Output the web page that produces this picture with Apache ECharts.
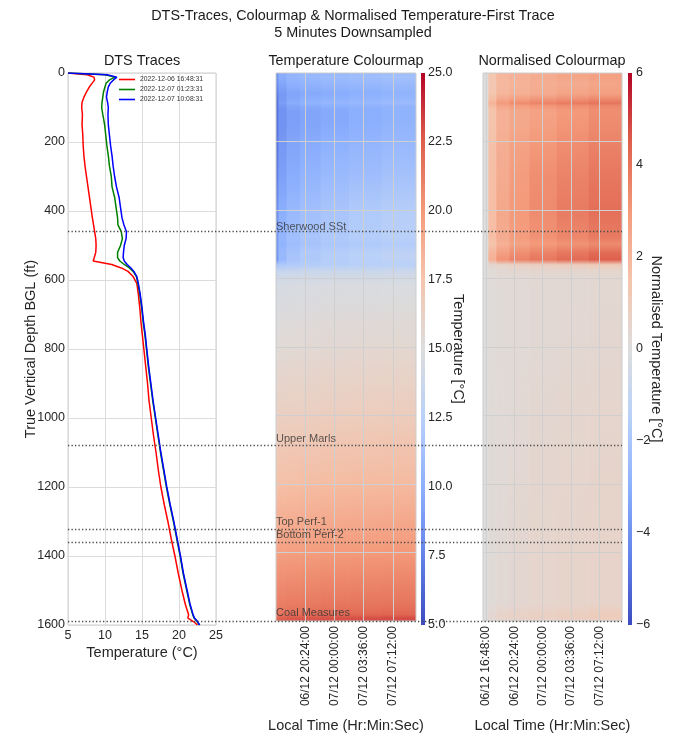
<!DOCTYPE html>
<html lang="en">
<head>
<meta charset="UTF-8">
<title>DTS Traces</title>
<script src="https://cdn.jsdelivr.net/npm/echarts@6/dist/echarts.min.js"></script>
<style>
    html, body { margin: 0; padding: 0; background: #fff; }
    #main { width: 677px; height: 738px; }
</style>
</head>
<body>
<div id="main"></div>
<script>
// ---- DTS traces (depth in ft, temperature in degC) ----
var traceDepths = [0, 5, 12, 20, 30, 40, 55, 70, 85, 100,
    120, 150, 180, 210, 240, 270, 300, 330, 360, 390,
    420, 440, 460, 480, 500, 520, 535, 545, 555, 565,
    575, 590, 610, 640, 680, 720, 760, 800, 850, 900,
    950, 1000, 1050, 1100, 1150, 1200, 1250, 1300, 1350, 1400,
    1450, 1500, 1540, 1570, 1580, 1590, 1600];
var traceRed = [5.0, 7.6, 8.5, 8.6, 8.25, 7.9, 7.5, 7.15, 6.9, 6.85,
    6.95, 6.9, 7.0, 7.05, 7.15, 7.3, 7.5, 7.7, 7.9, 8.1,
    8.3, 8.45, 8.6, 8.75, 8.8, 8.75, 8.55, 8.4, 10.9, 12.2,
    13.1, 13.8, 14.3, 14.5, 14.7, 14.85, 15.05, 15.25, 15.5, 15.75,
    15.95, 16.25, 16.55, 16.9, 17.2, 17.55, 18.0, 18.5, 18.95, 19.45,
    19.9, 20.4, 20.85, 21.3, 21.2, 21.95, 22.5];
var traceGreen = [5.0, 10.0, 11.35, 10.6, 10.15, 10.0, 9.8, 9.7, 9.6, 9.55,
    9.7, 9.95, 10.1, 10.25, 10.45, 10.6, 10.85, 10.95, 11.3, 11.5,
    11.7, 11.75, 12.2, 12.35, 12.1, 11.7, 11.7, 12.0, 12.6, 13.3,
    13.8, 14.25, 14.45, 14.7, 14.95, 15.15, 15.4, 15.6, 15.85, 16.15,
    16.45, 16.8, 17.15, 17.5, 17.9, 18.3, 18.75, 19.25, 19.7, 20.15,
    20.55, 21.05, 21.45, 21.85, 22.05, 22.45, 22.75];
var traceBlue = [5.0, 10.3, 11.6, 11.15, 10.7, 10.45, 10.3, 10.2, 10.35, 10.45,
    10.4, 10.45, 10.6, 10.75, 10.95, 11.1, 11.3, 11.55, 11.9, 12.1,
    12.3, 12.55, 12.9, 12.85, 12.6, 12.5, 12.45, 12.6, 13.0, 13.5,
    13.9, 14.3, 14.5, 14.75, 15.0, 15.2, 15.45, 15.65, 15.9, 16.2,
    16.5, 16.85, 17.2, 17.55, 17.95, 18.35, 18.8, 19.3, 19.75, 20.2,
    20.6, 21.1, 21.5, 21.9, 22.1, 22.5, 22.8];
var traceNames = ['2022-12-06 16:48:31', '2022-12-07 01:23:31', '2022-12-07 10:08:31'];

// ---- colourmap columns (hours since 06/12 16:48:00) ----
var mapEdges = [-0.38, 0.3, 1.3, 3, 5.5, 9, 13, 17.3];
var mapDepths = [0, 10, 30, 60, 80, 88, 96, 110, 150, 200,
    300, 400, 480, 500, 525, 545, 560, 580, 620, 800,
    1000, 1200, 1400, 1550, 1580, 1592, 1600];
var mapCol0 = [8.2, 8.5, 8.2, 7.4, 7.0, 6.9, 6.85, 6.9, 6.9, 7.05,
    7.45, 8.2, 8.75, 8.8, 8.7, 8.4, 11.5, 13.4, 14.4, 15.25,
    16.2, 17.55, 19.45, 21.0, 21.2, 22.1, 22.5];
var mapCol1 = [9.6, 9.9, 9.5, 8.8, 8.8, 9.0, 8.65, 8.4, 8.4, 8.65,
    9.15, 9.9, 10.45, 10.3, 10.7, 10.6, 11.9, 13.6, 14.55, 15.4,
    16.4, 17.75, 19.65, 21.2, 21.6, 22.5, 22.7];
var mapCol2 = [10.2, 10.5, 10.1, 9.4, 9.6, 9.9, 9.45, 9.1, 9.1, 9.35,
    9.85, 10.7, 11.15, 11.0, 11.5, 11.6, 12.1, 13.7, 14.6, 15.45,
    16.45, 17.8, 19.75, 21.3, 21.8, 22.7, 22.8];
var mapCol3 = [10.4, 10.7, 10.3, 9.6, 10.0, 10.3, 9.75, 9.4, 9.4, 9.75,
    10.35, 11.2, 11.65, 11.5, 12.0, 12.0, 12.3, 13.75, 14.65, 15.5,
    16.5, 17.9, 19.85, 21.4, 21.9, 22.8, 22.85];
var mapCol4 = [10.5, 10.9, 10.5, 9.8, 10.2, 10.5, 9.95, 9.6, 9.7, 10.05,
    10.75, 11.6, 11.95, 11.8, 12.3, 12.3, 12.4, 13.8, 14.7, 15.55,
    16.6, 18.0, 19.95, 21.5, 22.0, 22.9, 22.9];
var mapCol5 = [10.7, 11.1, 10.6, 10.0, 10.4, 10.7, 10.15, 9.9, 10.0, 10.35,
    11.05, 12.0, 12.25, 12.0, 12.6, 12.6, 12.5, 13.8, 14.7, 15.6,
    16.65, 18.05, 20.0, 21.55, 22.1, 23.0, 22.95];
var mapCol6 = [10.9, 11.3, 10.8, 10.2, 10.6, 10.9, 10.35, 10.2, 10.3, 10.65,
    11.35, 12.3, 12.55, 12.2, 12.9, 12.9, 12.6, 13.85, 14.75, 15.65,
    16.7, 18.1, 20.05, 21.6, 22.2, 23.1, 23.0];

// ---- formations ----
var formationNames = ['Sherwood SSt', 'Upper Marls', 'Top Perf-1', 'Bottom Perf-2', 'Coal Measures'];
var formationDepths = [460, 1078, 1322, 1360, 1588];

// ---- ticks ----
var depthTicks = [200, 400, 600, 800, 1000, 1200, 1400];
var timeTicks = [0, 3.6, 7.2, 10.8, 14.4];
var timeTickLabels = ['06/12 16:48:00', '06/12 20:24:00', '07/12 00:00:00', '07/12 03:36:00', '07/12 07:12:00'];

var coolwarmHex = ['#3b4cc0', '#6282ea', '#8db0fe', '#b8d0f9', '#dddddd', '#f5c4ac', '#f49a7b', '#de604d', '#b40426'];
var FONT = "'Liberation Sans', Arial, sans-serif";
var INK = '#262626';

function hexRgb(h) {
    return [parseInt(h.substr(1, 2), 16), parseInt(h.substr(3, 2), 16), parseInt(h.substr(5, 2), 16)];
}
function cmap(v, lo, hi) {
    var t = Math.max(0, Math.min(1, (v - lo) / (hi - lo))) * 8;
    var i = Math.min(7, Math.floor(t)), f = t - i;
    var a = hexRgb(coolwarmHex[i]), b = hexRgb(coolwarmHex[i + 1]);
    return 'rgb(' + [0, 1, 2].map(function (k) { return Math.round(a[k] + (b[k] - a[k]) * f); }).join(',') + ')';
}

var mapCols = [mapCol0, mapCol1, mapCol2, mapCol3, mapCol4, mapCol5, mapCol6];
// normalised = temperature minus first trace
var normCols = mapCols.map(function (col) {
    return col.map(function (t, k) { return t - mapCol0[k]; });
});
var colData = mapCols.map(function (c, i) { return [mapEdges[i], mapEdges[i + 1], i]; });

function columnRenderer(cols, lo, hi) {
    return function (params, api) {
        var c = api.value(2);
        var top = api.coord([api.value(0), mapDepths[0]]);
        var bot = api.coord([api.value(1), mapDepths[mapDepths.length - 1]]);
        var cs = params.coordSys;
        var rect = echarts.graphic.clipRectByRect(
            { x: top[0], y: top[1], width: bot[0] - top[0] + 0.6, height: bot[1] - top[1] },
            { x: cs.x, y: cs.y, width: cs.width, height: cs.height });
        if (!rect) return;
        var stops = mapDepths.map(function (d, k) {
            return { offset: (api.coord([0, d])[1] - top[1]) / (bot[1] - top[1]), color: cmap(cols[c][k], lo, hi) };
        });
        return { type: 'rect', shape: rect, style: { fill: new echarts.graphic.LinearGradient(0, 0, 0, 1, stops) } };
    };
}

function colourbarRenderer(lo, hi) {
    return function (params, api) {
        var p0 = api.coord([0, hi]);
        var p1 = api.coord([1, lo]);
        var stops = coolwarmHex.map(function (h, k) { return { offset: k / 8, color: coolwarmHex[8 - k] }; });
        return {
            type: 'rect',
            shape: { x: p0[0], y: p0[1], width: p1[0] - p0[0], height: p1[1] - p0[1] },
            style: { fill: new echarts.graphic.LinearGradient(0, 0, 0, 1, stops) }
        };
    };
}

function timeLabel(v) {
    for (var i = 0; i < timeTicks.length; i++) {
        if (Math.abs(timeTicks[i] - v) < 1e-6) return timeTickLabels[i];
    }
    return '';
}

function gridMarks() {
    return {
        silent: true, symbol: ['none', 'none'], animation: false,
        label: { show: false },
        lineStyle: { color: '#cfcfcf', width: 1, type: 'solid' },
        data: []
    };
}

var myChart = echarts.init(document.getElementById('main'));

var mapXAxis = function (grid, min, max, ticks) {
    return {
        gridIndex: grid, type: 'value', min: min, max: max,
        axisLine: { show: false }, axisTick: { show: false }, splitLine: { show: false },
        axisLabel: { rotate: 90, customValues: ticks, formatter: timeLabel, fontSize: 12, color: INK, margin: 5, fontFamily: FONT },
        name: 'Local Time (Hr:Min:Sec)', nameLocation: 'middle', nameGap: 97, nameMoveOverlap: false,
        nameTextStyle: { fontSize: 14.5, color: INK, fontFamily: FONT }
    };
};
var depthAxisHidden = function (grid) {
    return {
        gridIndex: grid, type: 'value', min: 0, max: 1600, inverse: true,
        axisLine: { show: false }, axisTick: { show: false }, axisLabel: { show: false }, splitLine: { show: false }
    };
};

var midMarks = gridMarks();
midMarks.data = timeTicks.slice(1).map(function (t) { return { xAxis: t }; })
    .concat(depthTicks.map(function (d) { return { yAxis: d }; }));
var rightMarks = gridMarks();
rightMarks.data = timeTicks.map(function (t) { return { xAxis: t }; })
    .concat(depthTicks.map(function (d) { return { yAxis: d }; }));

var titleStyle = { fontSize: 14.4, fontWeight: 'normal', color: '#1a1a1a', fontFamily: FONT };

option = {
    backgroundColor: '#ffffff',
    animation: false,
    textStyle: { fontFamily: FONT },
    title: [
        { text: 'DTS-Traces, Colourmap & Normalised Temperature-First Trace\n5 Minutes Downsampled',
          left: 353, top: 8, textAlign: 'center', padding: 0,
          textStyle: { fontSize: 14.4, fontWeight: 'normal', color: '#1a1a1a', lineHeight: 17, fontFamily: FONT } },
        { text: 'DTS Traces', left: 142, top: 54, textAlign: 'center', padding: 0, textStyle: titleStyle },
        { text: 'Temperature Colourmap', left: 346, top: 54, textAlign: 'center', padding: 0, textStyle: titleStyle },
        { text: 'Normalised Colourmap', left: 552, top: 54, textAlign: 'center', padding: 0, textStyle: titleStyle }
    ],
    legend: {
        data: traceNames, orient: 'vertical', left: 119, top: 76, padding: 0,
        icon: 'rect', itemWidth: 16, itemHeight: 1.6, itemGap: 3,
        textStyle: { fontSize: 6.8, color: '#333', fontFamily: FONT }
    },
    grid: [
        { left: 68, top: 73, width: 148, height: 552, show: true, borderColor: '#cccccc', borderWidth: 1 },
        { left: 276, top: 73, width: 140, height: 552, show: true, borderColor: '#cccccc', borderWidth: 1, z: 10, backgroundColor: 'transparent' },
        { left: 421, top: 73, width: 4, height: 552 },
        { left: 483, top: 73, width: 139, height: 552, show: true, borderColor: '#cccccc', borderWidth: 1, z: 10, backgroundColor: 'transparent' },
        { left: 628, top: 73, width: 4, height: 552 },
        { left: 68, top: 73, width: 554, height: 552 }
    ],
    xAxis: [
        { gridIndex: 0, type: 'value', min: 5, max: 25, interval: 5,
          axisLine: { show: false }, axisTick: { show: false },
          axisLabel: { fontSize: 12.5, color: INK, margin: 4, fontFamily: FONT },
          splitLine: { lineStyle: { color: '#dcdcdc', width: 1 } },
          name: 'Temperature (°C)', nameLocation: 'middle', nameGap: 20, nameMoveOverlap: false,
          nameTextStyle: { fontSize: 14.5, color: INK, fontFamily: FONT } },
        mapXAxis(1, 0, 17.25, timeTicks.slice(1)),
        { gridIndex: 2, type: 'value', min: 0, max: 1, show: false },
        mapXAxis(3, -0.38, 17.3, timeTicks),
        { gridIndex: 4, type: 'value', min: 0, max: 1, show: false },
        { gridIndex: 5, type: 'value', min: 0, max: 1, show: false }
    ],
    yAxis: [
        { gridIndex: 0, type: 'value', min: 0, max: 1600, interval: 200, inverse: true,
          axisLine: { show: false }, axisTick: { show: false },
          axisLabel: { fontSize: 12.5, color: INK, margin: 3, fontFamily: FONT,
                       formatter: function (v) { return String(v); } },
          splitLine: { lineStyle: { color: '#dcdcdc', width: 1 } },
          name: 'True Vertical Depth BGL (ft)', nameLocation: 'middle', nameGap: 30, nameMoveOverlap: false,
          nameTextStyle: { fontSize: 14.5, color: INK, fontFamily: FONT } },
        depthAxisHidden(1),
        { gridIndex: 2, type: 'value', min: 5, max: 25, interval: 2.5, position: 'right',
          axisLine: { show: false }, axisTick: { show: false }, splitLine: { show: false },
          axisLabel: { fontSize: 12.5, color: INK, margin: 3, fontFamily: FONT,
                       formatter: function (v) { return v.toFixed(1); } },
          name: 'Temperature [°C]', nameLocation: 'middle', nameRotate: -90, nameGap: 25, nameMoveOverlap: false,
          nameTextStyle: { fontSize: 14.5, color: INK, fontFamily: FONT } },
        depthAxisHidden(3),
        { gridIndex: 4, type: 'value', min: -6, max: 6, interval: 2, position: 'right',
          axisLine: { show: false }, axisTick: { show: false }, splitLine: { show: false },
          axisLabel: { fontSize: 12.5, color: INK, margin: 4, fontFamily: FONT,
                       formatter: function (v) { return String(v).replace('-', '\u2212'); } },
          name: 'Normalised Temperature [°C]', nameLocation: 'middle', nameRotate: -90, nameGap: 16, nameMoveOverlap: false,
          nameTextStyle: { fontSize: 14.5, color: INK, fontFamily: FONT } },
        { gridIndex: 5, type: 'value', min: 0, max: 1600, inverse: true, show: false }
    ],
    series: [
        { name: traceNames[0], type: 'line', xAxisIndex: 0, yAxisIndex: 0, color: '#ff0000',
          showSymbol: false, symbol: 'none', lineStyle: { width: 1.5 },
          data: traceDepths.map(function (d, i) { return [traceRed[i], d]; }) },
        { name: traceNames[1], type: 'line', xAxisIndex: 0, yAxisIndex: 0, color: '#008000',
          showSymbol: false, symbol: 'none', lineStyle: { width: 1.5 },
          data: traceDepths.map(function (d, i) { return [traceGreen[i], d]; }) },
        { name: traceNames[2], type: 'line', xAxisIndex: 0, yAxisIndex: 0, color: '#0000ff',
          showSymbol: false, symbol: 'none', lineStyle: { width: 1.5 },
          data: traceDepths.map(function (d, i) { return [traceBlue[i], d]; }) },
        { type: 'custom', xAxisIndex: 1, yAxisIndex: 1, silent: true,
          renderItem: columnRenderer(mapCols, 5, 25), data: colData, markLine: midMarks },
        { type: 'custom', xAxisIndex: 3, yAxisIndex: 3, silent: true,
          renderItem: columnRenderer(normCols, -6, 6), data: colData, markLine: rightMarks },
        { type: 'custom', xAxisIndex: 2, yAxisIndex: 2, silent: true,
          renderItem: colourbarRenderer(5, 25), data: [[0, 5]] },
        { type: 'custom', xAxisIndex: 4, yAxisIndex: 4, silent: true,
          renderItem: colourbarRenderer(-6, 6), data: [[0, -6]] },
        { type: 'scatter', xAxisIndex: 5, yAxisIndex: 5, symbolSize: 0, silent: true, z: 20,
          data: formationDepths.map(function (d) { return [0, d]; }),
          markLine: {
              silent: true, symbol: ['none', 'none'], animation: false, z: 20,
              label: { show: false },
              lineStyle: { color: '#4a4a4a', width: 1.3, type: [1.3, 2.2] },
              data: formationDepths.map(function (d) { return { yAxis: d }; })
          } },
        { type: 'scatter', xAxisIndex: 1, yAxisIndex: 1, symbolSize: 0, silent: true, z: 21,
          data: formationDepths.map(function (d, i) { return { value: [0, d], name: formationNames[i] }; }),
          label: { show: true, formatter: '{b}', position: 'right', distance: 0, verticalAlign: 'bottom',
                   offset: [0, 2], fontSize: 11, color: '#333333', fontFamily: FONT } }
    ]
};

myChart.setOption(option);
</script>
</body>
</html>
